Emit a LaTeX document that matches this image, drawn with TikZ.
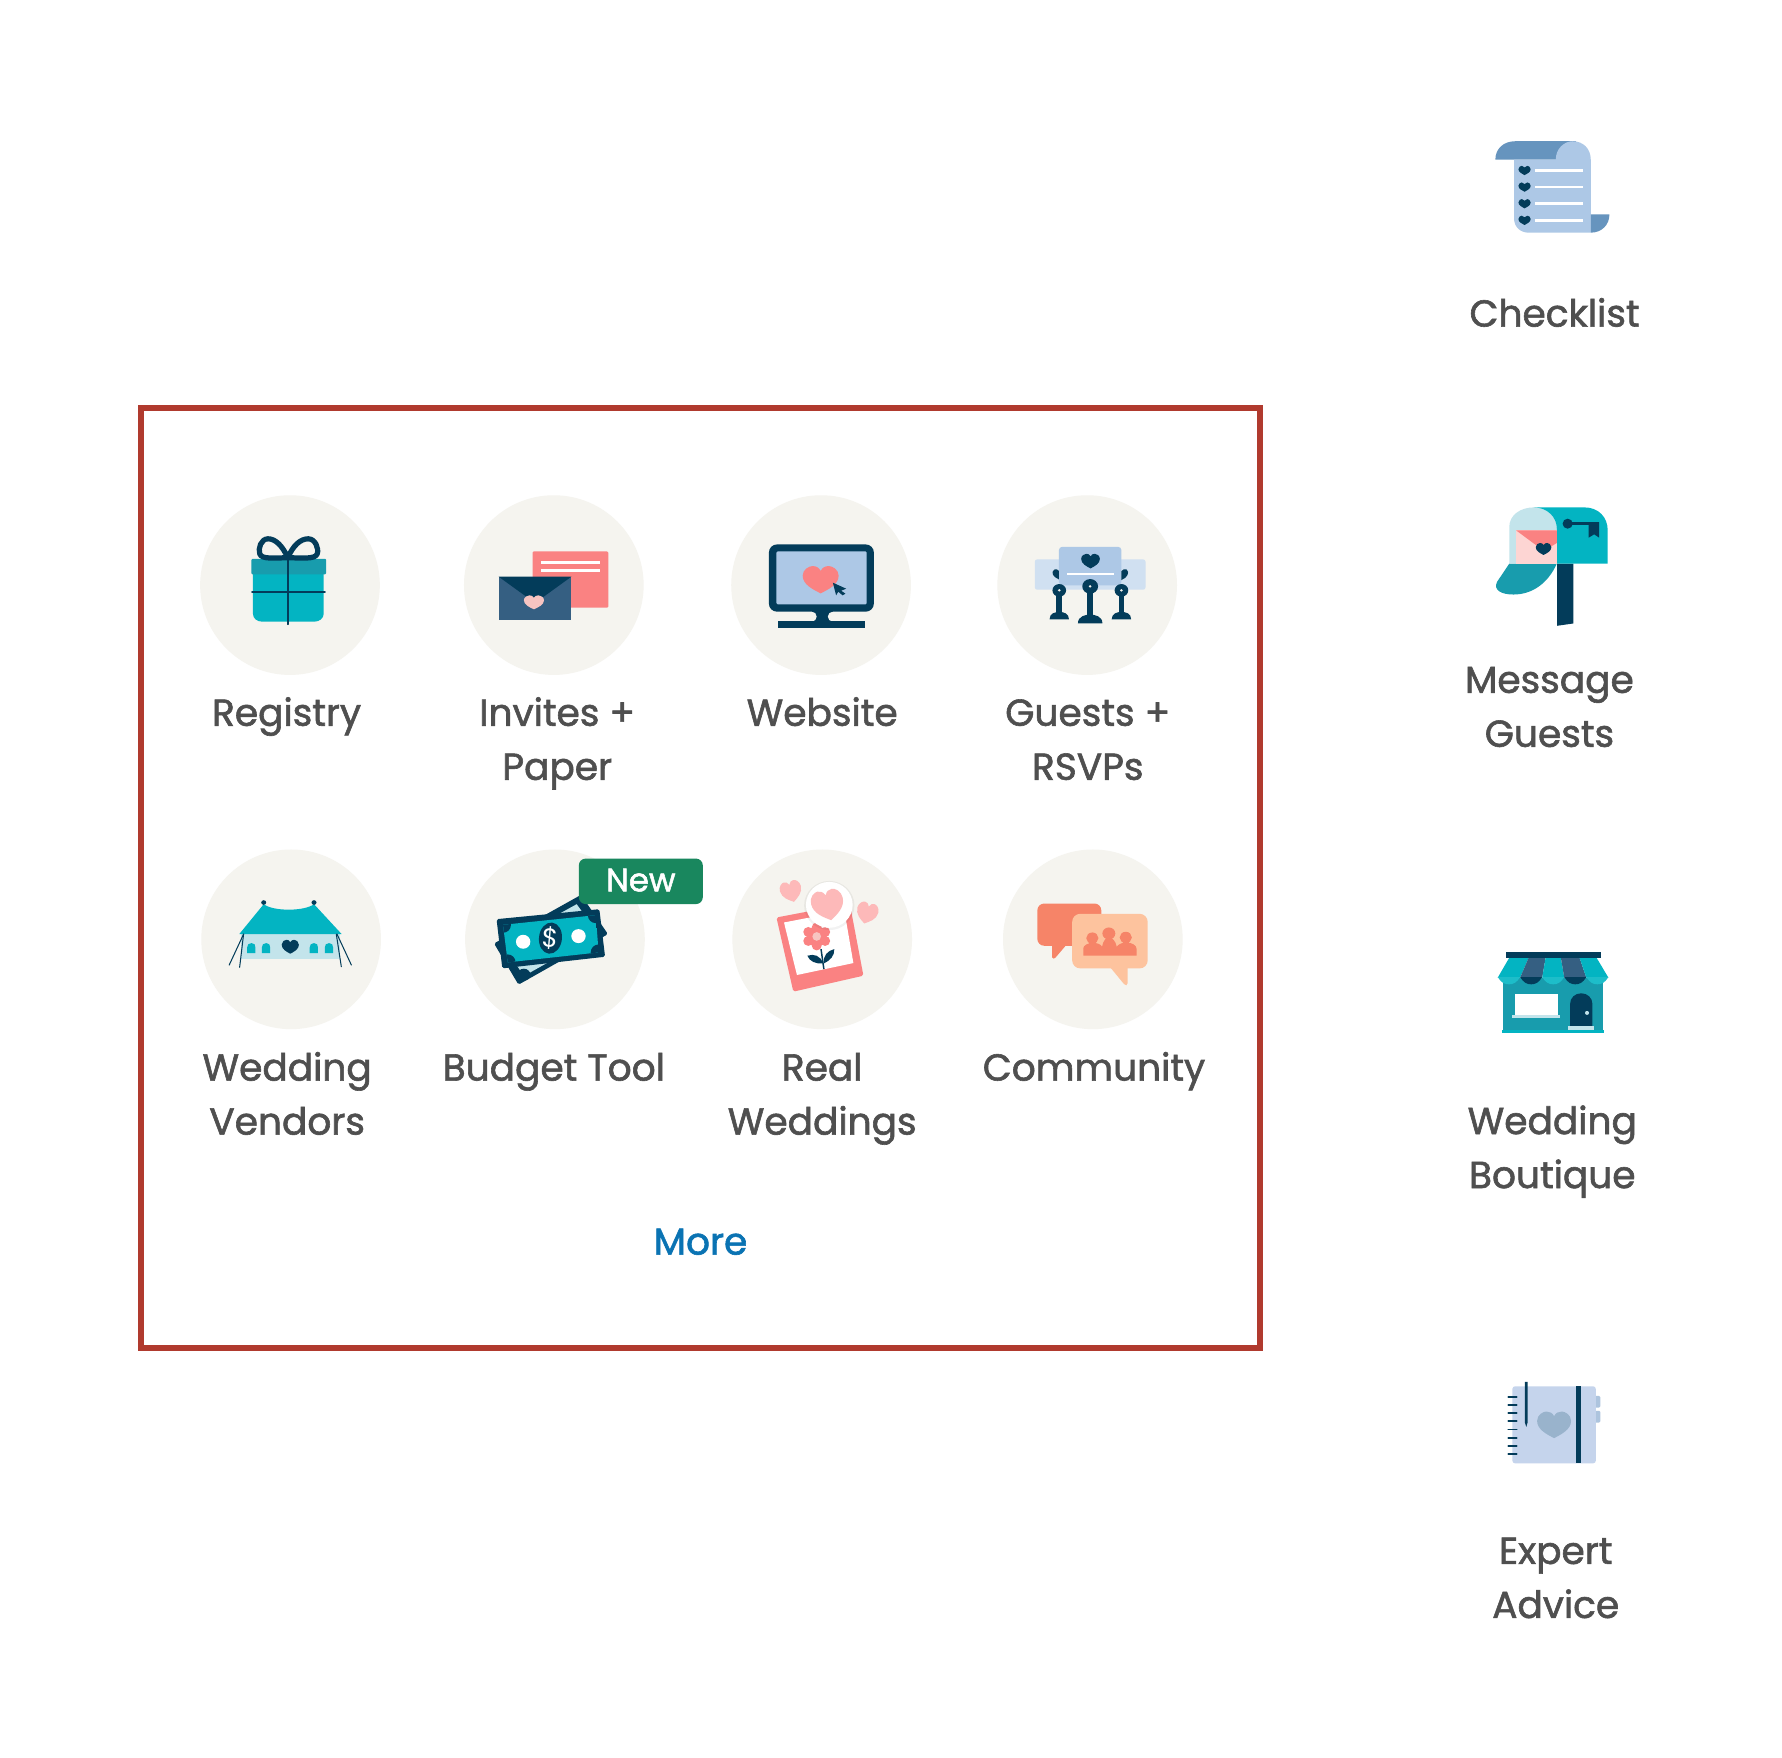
\documentclass[tikz,border=0pt]{standalone}
\usepackage{fontspec}
\usetikzlibrary{calc}
\setmainfont{Poppins}
\newfontfamily\lblfont{Poppins}[FakeBold=1.6]
\definecolor{bub}{HTML}{F5F4EF}
\definecolor{teal}{HTML}{03B4C2}
\definecolor{lteal}{HTML}{1DBDC9}
\definecolor{dteal}{HTML}{189CAD}
\definecolor{navy}{HTML}{033C5A}
\definecolor{pinkc}{HTML}{FA8282}
\definecolor{lpink}{HTML}{F7C4C1}
\definecolor{hpink}{HTML}{FDB9B9}
\definecolor{pale}{HTML}{FDD5D3}
\definecolor{envb}{HTML}{355F82}
\definecolor{lblue}{HTML}{ADC8E6}
\definecolor{llblue}{HTML}{D0E0F1}
\definecolor{paleb}{HTML}{C3E4EB}
\definecolor{steel}{HTML}{6694BE}
\definecolor{greenb}{HTML}{19875E}
\definecolor{redb}{HTML}{B03A2E}
\definecolor{txt}{HTML}{4F4F4F}
\definecolor{linkc}{HTML}{0A73B3}
\definecolor{orng}{HTML}{F68468}
\definecolor{peach}{HTML}{FDC39E}
\definecolor{nbook}{HTML}{C5D4EC}
\definecolor{nheart}{HTML}{99B3CC}
\definecolor{nhtab}{HTML}{ADC4DE}
\tikzset{
 bubble/.style={circle,fill=bub,minimum size=158pt,inner sep=0pt},
 lbl/.style={anchor=north,align=center,inner sep=0pt,text=txt,font=\lblfont\fontsize{33}{47.5}\selectfont},
 zmain/.style={xscale=0.316,yscale=0.2924},
 zside/.style={xscale=0.2985,yscale=0.2924},
 thinw/.style={draw=white,line width=2pt},
 navl/.style={draw=navy,line cap=round}
}
\newcommand{\hrt}[6]{\fill[#1,shift={(#2,#3)},xscale=#4,yscale=#5,rotate=#6] (0,1) .. controls (-0.45,0.7) and (-1,0.35) .. (-1,-0.3) .. controls (-1,-0.75) and (-0.65,-1) .. (-0.45,-1) .. controls (-0.25,-1) and (-0.1,-0.9) .. (0,-0.65) .. controls (0.1,-0.9) and (0.25,-1) .. (0.45,-1) .. controls (0.65,-1) and (1,-0.75) .. (1,-0.3) .. controls (1,0.35) and (0.45,0.7) .. (0,1) -- cycle;}
\newcommand{\arch}[3]{\fill[teal] (#1,397) -- (#1,380) .. controls (#1,372) and (#2,367) .. (#3,367) .. controls (#2+16,367) and (#3+11,372) .. (#3+11,380) -- (#3+11,397) -- cycle;}
\newcommand{\lst}{\rule{0pt}{28pt}}
\begin{document}
\begin{tikzpicture}[x=1pt,y=-1pt]
\useasboundingbox (0,0) rectangle (1567,1545.9);
\fill[white] (0,0) rectangle (1567,1545.9);
% red frame
\node[draw=redb,line width=5.5pt,minimum width=984.5pt,minimum height=826.5pt,inner sep=0pt] (frame) at (616,772) {};
% circles
\node[bubble] (c1) at (255,514.5) {};
\node[bubble] (c2) at (487,514.5) {};
\node[bubble] (c3) at (722,514.5) {};
\node[bubble] (c4) at (956,514.5) {};
\node[bubble] (c5) at (256,826) {};
\node[bubble] (c6) at (488,826) {};
\node[bubble] (c7) at (723,826) {};
\node[bubble] (c8) at (961,826) {};

% ---------- zoom 1: gift, envelope
\begin{scope}[shift={(131.4,370)},zmain]
 \fill[teal] (288,440) -- (485,440) -- (485,580) .. controls (485,595) and (472,604) .. (460,604) -- (313,604) .. controls (300,604) and (288,595) .. (288,580) -- cycle;
 \fill[dteal,rounded corners=1pt] (284,415) rectangle (492,462);
 \draw[navy,line width=4.6pt,line join=round] (385,412) .. controls (370,375) and (350,355) .. (330,355) .. controls (310,355) and (302,385) .. (307,400) .. controls (312,418) and (350,412) .. (385,412) .. controls (400,375) and (420,355) .. (442,355) .. controls (462,355) and (472,385) .. (467,400) .. controls (462,418) and (420,412) .. (388,412);
 \draw[navl,line width=1.7pt] (386,410) -- (386,612);
 \draw[navl,line width=1.9pt] (286,514) -- (488,514);
 \begin{scope}[shift={(-5,0)}]
 \fill[pinkc,rounded corners=1pt] (1071,393) rectangle (1282,562);
 \draw[thinw] (1096,426) -- (1259,426);
 \draw[thinw] (1096,450) -- (1259,450);
 \fill[envb] (977,469) rectangle (1179,599);
 \fill[navy] (977,469) -- (1179,469) -- (1078,548) -- cycle;
 \hrt{lpink}{1075}{546}{28}{21}{0}
 \end{scope}
\end{scope}

% ---------- zoom 2: monitor, guests
\begin{scope}[shift={(624,370)},zmain]
 \fill[navy] (285,570) rectangle (342,606);
 \fill[bub] (284,589) circle [x radius=14,y radius=15];
 \fill[bub] (343,589) circle [x radius=14,y radius=15];
 \fill[navy] (190,603) rectangle (431,624);
 \fill[navy,rounded corners=7pt] (165,372) rectangle (457,574);
 \fill[lblue,rounded corners=1pt] (186,393) rectangle (437,552);
 \hrt{pinkc}{309}{478}{50}{41}{0}
 \fill[navy] (343,487) -- (380,505) -- (366,511) -- (378,520) -- (370,525) -- (358,514) -- (352,525) -- cycle;

 \begin{scope}[shift={(-5,0)}]
 \fill[llblue,rounded corners=2pt] (910,417) rectangle (1218,508);
 \fill[lblue,rounded corners=3pt] (977,379) rectangle (1151,495);
 \hrt{navy}{1065}{422}{26}{22}{0}
 \draw[draw=white,line width=1.4pt] (1000,460) -- (1131,460);
 \fill[navy] (977,477) .. controls (960,470) and (953,455) .. (965,447) .. controls (970,445) and (975,448) .. (977,452) -- cycle;
 \fill[navy] (1151,479) .. controls (1168,472) and (1175,455) .. (1165,447) .. controls (1160,445) and (1153,448) .. (1151,452) -- cycle;
 \foreach \gx/\gy/\gr/\gb/\gt/\gw in {978/510/19/597/575/27,1151/510/19/597/575/27,1064/498/22/609/583/34}{
  \fill[navy] (\gx-8,\gy) rectangle (\gx+8,\gb-5);
  \fill[navy] (\gx,\gy) circle [x radius=\gr,y radius=\gr];
  \fill[bub] (\gx,\gy) circle [x radius=4,y radius=4];
  \fill[navy] (\gx-\gw,\gb) .. controls (\gx-\gw,\gt+4) and (\gx-12,\gt) .. (\gx,\gt) .. controls (\gx+12,\gt) and (\gx+\gw,\gt+4) .. (\gx+\gw,\gb) -- cycle;
 }
 \end{scope}
\end{scope}

% ---------- zoom 3: tent, money
\begin{scope}[shift={(131.4,722)},zmain]
 \fill[paleb] (255,338) rectangle (530,416);
 \fill[teal] (250,340) -- (318,250) .. controls (345,272) and (430,272) .. (458,250) -- (535,340) -- cycle;
 \fill[navy] (318,245) circle [x radius=7,y radius=7];
 \fill[navy] (458,245) circle [x radius=7,y radius=7];
 \arch{272}{276}{284}
 \arch{313}{317}{325}
 \arch{446}{450}{458}
 \arch{488}{492}{500}
 \hrt{navy}{392}{378}{24}{21}{0}
 \draw[navl,line width=.9pt] (262,340) -- (222,433);
 \draw[navl,line width=.9pt] (262,340) -- (251,440);
 \draw[navl,line width=.9pt] (520,340) -- (534,438);
 \draw[navl,line width=.9pt] (522,340) -- (562,433);
 % money
 \begin{scope}[shift={(-6,0)}]
 \fill[navy,rounded corners=1.5pt] (965,368) -- (1207,222) -- (1282,340) -- (1033,492) -- cycle;
 \fill[paleb] (990,372) -- (1195,250) -- (1255,340) -- (1048,466) -- cycle;
 \fill[navy] (1048,462) circle [x radius=18,y radius=18];
 \fill[navy,rounded corners=1.5pt] (972,295) -- (1258,265) -- (1274,408) -- (988,443) -- cycle;
 \begin{scope}
  \clip (990,312) -- (1248,283) -- (1256,395) -- (1003,425) -- cycle;
  \fill[teal] (990,312) -- (1248,283) -- (1256,395) -- (1003,425) -- cycle;
  \foreach \mx/\my in {990/312,1248/283,1256/395,1003/425}{\fill[navy] (\mx,\my) circle [x radius=22,y radius=24];}
 \end{scope}
 \fill[white] (1046,363) circle [x radius=20,y radius=21];
 \fill[white] (1200,346) circle [x radius=20,y radius=21];
 \fill[navy,rotate around={-5:(1122,352)}] (1122,352) circle [x radius=32,y radius=47];
 \node[text=white,font=\fontsize{23}{23}\selectfont,inner sep=0pt,rotate=-5] (dollar) at (1122,352) {\$};
 \end{scope}
\end{scope}
\node[fill=greenb,rounded corners=6pt,minimum width=109pt,minimum height=40pt,inner sep=0pt] (newb) at (563.5,775) {};
\node[text=white,font=\lblfont\fontsize{28.5}{29}\selectfont,inner sep=0pt] (newt) at (563.5,774) {New};

% ---------- zoom 4: photo, community
\begin{scope}[shift={(624,722)},zmain]
 \hrt{hpink}{227}{212}{30}{32}{15}
 \hrt{hpink}{438}{277}{30}{32}{-15}
 \fill[pinkc,rounded corners=1.5pt] (186,290) -- (390,248) -- (428,465) -- (233,513) -- cycle;
 \fill[white] (207,305) -- (375,270) -- (400,427) -- (243,463) -- cycle;
 \foreach \pa in {0,60,...,300}{\fill[pinkc] ($(298,347)+(\pa+30:27)$) circle [x radius=14,y radius=15];}
 \fill[pinkc] (298,347) circle [x radius=28,y radius=30];
 \fill[lpink] (298,347) circle [x radius=12,y radius=13];
 \draw[navy,line width=1.3pt] (310,385) -- (318,445);
 \fill[navy] (272,405) .. controls (290,398) and (310,405) .. (315,428) .. controls (295,430) and (278,422) .. (272,405) -- cycle;
 \fill[navy] (347,385) .. controls (348,405) and (335,420) .. (318,428) .. controls (315,405) and (328,390) .. (347,385) -- cycle;
 \fill[black,opacity=.05] (333,254) circle [x radius=70,y radius=74];
 \fill[white] (333,252) circle [x radius=65,y radius=69];
 \hrt{hpink}{329}{253}{45}{46}{12}

 \begin{scope}[shift={(-5,0)}]
 \fill[orng,rounded corners=6pt] (917,248) rectangle (1095,375);
 \fill[orng] (958,370) -- (958,410) .. controls (960,416) and (965,414) .. (968,410) -- (998,372) -- cycle;
 \fill[peach,rounded corners=7pt] (1014,279) rectangle (1224,443);
 \fill[peach] (1120,440) -- (1158,490) .. controls (1162,496) and (1168,495) .. (1168,488) -- (1168,440) -- cycle;
 \foreach \hx/\hy/\hr in {1070/352/17,1163/350/17,1116/338/18}{\fill[orng] (\hx,\hy) circle [x radius=\hr,y radius=\hr]; \fill[orng] (\hx-9,\hy) rectangle (\hx+9,\hy+28);}
 \fill[orng] (1045,405) -- (1045,382) .. controls (1045,374) and (1060,366) .. (1070,366) .. controls (1085,366) and (1095,372) .. (1097,378) .. controls (1100,360) and (1108,350) .. (1116,350) .. controls (1126,350) and (1134,360) .. (1138,378) .. controls (1142,370) and (1155,365) .. (1165,365) .. controls (1180,365) and (1193,374) .. (1193,384) -- (1193,405) -- cycle;
 \end{scope}
\end{scope}

% ---------- side icons
\begin{scope}[shift={(1283,97)},zside]
 \fill[steel] (107,148) .. controls (107,115) and (132,93) .. (165,93) -- (345,93) -- (285,148) -- cycle;
 \fill[lblue] (162,148) -- (285,148) .. controls (285,115) and (310,93) .. (335,93) .. controls (365,93) and (388,115) .. (388,148) -- (388,368) -- (205,368) .. controls (180,368) and (162,350) .. (162,325) -- cycle;
 \fill[steel] (388,313) -- (443,313) .. controls (443,345) and (420,368) .. (388,368) -- cycle;
 \foreach \cy in {181,231,281,331}{
  \hrt{navy}{193}{\cy}{18}{14}{0}
  \draw[draw=white,line width=2.4pt] (225,\cy) -- (365,\cy);
 }
\end{scope}

\begin{scope}[shift={(1283,422.5)},zside]
 \fill[navy] (289,250) -- (337,250) -- (337,430) -- (289,437) -- cycle;
 \fill[dteal] (148,250) -- (288,250) .. controls (262,310) and (215,343) .. (160,343) .. controls (125,343) and (100,330) .. (112,305) -- cycle;
 \fill[paleb] (148,250) -- (148,140) .. controls (148,105) and (180,81) .. (220,81) .. controls (260,81) and (288,110) .. (288,145) -- (288,250) -- cycle;
 \fill[teal] (220,81) -- (370,81) .. controls (410,81) and (438,110) .. (438,150) -- (438,250) -- (288,250) -- (288,145) .. controls (288,110) and (260,81) .. (220,81) -- cycle;
 \fill[pale] (168,150) rectangle (288,250);
 \fill[pinkc] (168,150) -- (288,150) -- (288,188) -- (250,212) -- cycle;
 \hrt{navy}{249}{206}{23}{18}{0}
 \fill[navy] (320,130) circle [x radius=15,y radius=15];
 \fill[navy] (320,125) rectangle (413,135);
 \fill[navy] (382,125) -- (413,125) -- (413,172) -- (398,162) -- (382,172) -- cycle;
\end{scope}

\begin{scope}[shift={(1283,810)},zside]
 \fill[dteal] (130,170) rectangle (425,330);
 \fill[teal] (127,327) rectangle (428,335);
 \fill[teal] (148,110) -- (205,110) -- (180,170) -- (114,170) -- cycle;
 \fill[envb] (205,110) -- (255,110) -- (245,170) -- (180,170) -- cycle;
 \fill[teal] (255,110) -- (300,110) -- (310,170) -- (245,170) -- cycle;
 \fill[envb] (300,110) -- (355,110) -- (375,170) -- (310,170) -- cycle;
 \fill[teal] (355,110) -- (405,110) -- (440,170) -- (375,170) -- cycle;
 \foreach \sa/\sb/\scl in {114/180/lteal,180/245/navy,245/310/lteal,310/375/navy,375/440/lteal}{
  \fill[\scl] (\sa,168) .. controls (\sa+10,185) and (\sa+20,190) .. (\sa/2+\sb/2,190) .. controls (\sb-20,190) and (\sb-10,185) .. (\sb,168) -- cycle;
 }
 \fill[navy] (137,94) rectangle (418,110);
 \fill[white] (164,219) rectangle (291,283);
 \fill[paleb] (156,283) rectangle (298,292);
 \fill[navy] (327,315) -- (327,250) .. controls (327,230) and (342,217) .. (360,217) .. controls (378,217) and (393,230) .. (393,250) -- (393,315) -- cycle;
 \fill[paleb] (377,276) circle [x radius=6,y radius=6];
 \fill[paleb] (321,316) rectangle (398,327);
\end{scope}

\begin{scope}[shift={(1283,1188)},zside]
 \fill[nhtab,rounded corners=1pt] (398,135) rectangle (416,170);
 \fill[nhtab,rounded corners=1pt] (398,180) rectangle (416,215);
 \fill[nbook,rounded corners=2.5pt] (157,106) rectangle (403,338);
 \fill[navy] (345,106) rectangle (358,338);
 \foreach \ry in {137,162,187,211,236,261,285,310}{\draw[navl,line width=1.7pt] (145,\ry) -- (170,\ry);}
 \fill[navy] (194,93) -- (202,93) -- (202,215) -- (198,228) -- (194,215) -- cycle;
 \hrt{nheart}{280}{222}{50}{40}{0}
\end{scope}

% ---------- labels
\node[lbl] (t1) at (252,610) {\lst Registry};
\node[lbl] (t2) at (490,610) {\lst Invites +\\Paper};
\node[lbl] (t3) at (723,610) {\lst Website};
\node[lbl] (t4) at (956.5,610) {\lst Guests +\\RSVPs};
\node[lbl] (t5) at (252.5,922) {\lst Wedding\\Vendors};
\node[lbl] (t6) at (487,922) {\lst Budget Tool};
\node[lbl] (t7) at (723,922) {\lst Real\\Weddings};
\node[lbl] (t8) at (962,922) {\lst Community};
\node[lbl,text=linkc] (more) at (616,1075) {\lst More};
\node[lbl] (s1) at (1367,259) {\lst Checklist};
\node[lbl] (s2) at (1362.5,581) {\lst Message\\Guests};
\node[lbl] (s3) at (1365,969) {\lst Wedding\\Boutique};
\node[lbl] (s4) at (1368,1347) {\lst Expert\\Advice};
\end{tikzpicture}
\end{document}
